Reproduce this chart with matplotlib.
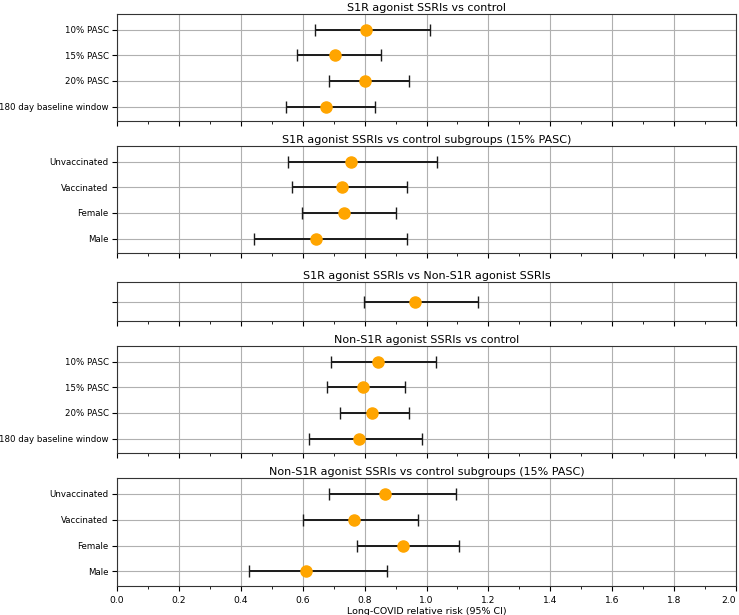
import matplotlib
matplotlib.use("Agg")
import matplotlib.pyplot as plt
from matplotlib.ticker import MultipleLocator

plt.rcParams['font.family'] = ['DejaVu Sans']

# panel titles
titles = [
    'S1R agonist SSRIs vs control',
    'S1R agonist SSRIs vs control subgroups (15% PASC)',
    'S1R agonist SSRIs vs Non-S1R agonist SSRIs',
    'Non-S1R agonist SSRIs vs control',
    'Non-S1R agonist SSRIs vs control subgroups (15% PASC)',
]

# row labels per panel (top to bottom)
sens_labels = ['10% PASC', '15% PASC', '20% PASC', '180 day baseline window']
sub_labels = ['Unvaccinated', 'Vaccinated', 'Female', 'Male']
cmp_labels = ['']

# relative risk estimates and 95% CI, top to bottom
s1r_rr = [0.803, 0.705, 0.801, 0.676]
s1r_lo = [0.639, 0.583, 0.684, 0.545]
s1r_hi = [1.010, 0.853, 0.942, 0.832]

s1r_sub_rr = [0.756, 0.728, 0.735, 0.644]
s1r_sub_lo = [0.552, 0.566, 0.599, 0.442]
s1r_sub_hi = [1.035, 0.937, 0.902, 0.937]

cmp_rr = [0.962]
cmp_lo = [0.798]
cmp_hi = [1.165]

non_rr = [0.844, 0.794, 0.825, 0.781]
non_lo = [0.693, 0.677, 0.722, 0.619]
non_hi = [1.030, 0.931, 0.942, 0.986]

non_sub_rr = [0.865, 0.765, 0.923, 0.610]
non_sub_lo = [0.685, 0.602, 0.774, 0.427]
non_sub_hi = [1.094, 0.972, 1.105, 0.871]

x_ticks = [0.0, 0.2, 0.4, 0.6, 0.8, 1.0, 1.2, 1.4, 1.6, 1.8, 2.0]

panels = [
    (sens_labels, s1r_rr, s1r_lo, s1r_hi),
    (sub_labels, s1r_sub_rr, s1r_sub_lo, s1r_sub_hi),
    (cmp_labels, cmp_rr, cmp_lo, cmp_hi),
    (sens_labels, non_rr, non_lo, non_hi),
    (sub_labels, non_sub_rr, non_sub_lo, non_sub_hi),
]

W, H = 739, 615
fig = plt.figure(figsize=(W / 100, H / 100), dpi=100)

# axes extents in pixels (top, bottom)
boxes = [(14, 121), (146, 253), (282, 321), (346, 453), (478, 586)]
x0, x1 = 117, 736

for i, ((labels, rr, lo, hi), (top, bot), title) in enumerate(zip(panels, boxes, titles)):
    ax = fig.add_axes([x0 / W, 1 - bot / H, (x1 - x0) / W, (bot - top) / H])
    n = len(labels)
    ys = list(range(n - 1, -1, -1))
    xerr = [[r - l for r, l in zip(rr, lo)], [h - r for r, h in zip(rr, hi)]]
    ax.errorbar(rr, ys, xerr=xerr, fmt='o', color='orange', markersize=8,
                ecolor='#1a1a1a', elinewidth=1.4, capsize=4.5, capthick=1.0, zorder=3)
    ax.set_xlim(0, 2.0)
    if n > 1:
        ax.set_ylim(-0.56, n - 1 + 0.61)
    else:
        ax.set_ylim(-0.5, 0.5)
    ax.set_yticks(ys)
    ax.set_yticklabels(labels, fontsize=6.2)
    ax.tick_params(axis='y', pad=2.5)
    ax.set_xticks(x_ticks)
    ax.xaxis.set_minor_locator(MultipleLocator(0.1))
    ax.grid(True, which='major', color='#b0b0b0', linewidth=0.8)
    ax.set_axisbelow(True)
    ax.set_title(title, fontsize=8, pad=2.5)
    for s in ax.spines.values():
        s.set_color('#333333')
    if i < len(panels) - 1:
        ax.tick_params(axis='x', labelbottom=False)
    else:
        ax.set_xticklabels([f'{t:.1f}' for t in x_ticks], fontsize=6.6)
        # keep the last label inside the figure
        ax.get_xticklabels()[-1].set_horizontalalignment('right')
        ax.set_xlabel('Long-COVID relative risk (95% CI)', fontsize=6.8, labelpad=2)

fig.savefig('out.png', dpi=100)
